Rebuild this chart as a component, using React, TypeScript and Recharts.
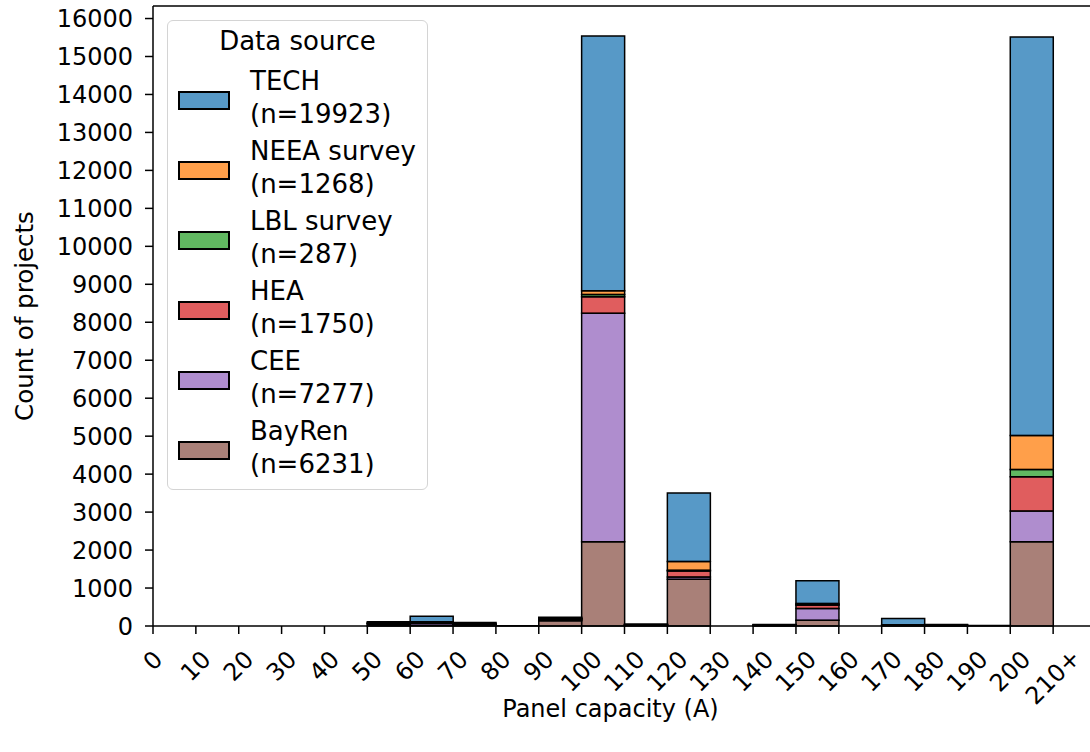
import React from 'react';
import { BarChart, Bar, XAxis, YAxis, Legend, ReferenceLine } from 'recharts';

// histogram bins (lower edge, width 10); the last bin is 200-210
const binStarts = [0, 10, 20, 30, 40, 50, 60, 70, 80, 90, 100, 110, 120, 130, 140, 150, 160, 170, 180, 190, 200];
const xTicks = [0, 10, 20, 30, 40, 50, 60, 70, 80, 90, 100, 110, 120, 130, 140, 150, 160, 170, 180, 190, 200, 210];
const yTicks = [0, 1000, 2000, 3000, 4000, 5000, 6000, 7000, 8000, 9000, 10000, 11000, 12000, 13000, 14000, 15000, 16000];
const yMax = 16330;
const xMax = 220;

// counts per bin, bottom of stack first
const bayRen = [0, 0, 0, 0, 0, 15, 20, 10, 0, 140, 2220, 10, 1230, 0, 5, 150, 0, 5, 5, 0, 2220];
const cee = [0, 0, 0, 0, 0, 35, 50, 20, 0, 20, 6016, 10, 60, 0, 10, 310, 0, 10, 5, 0, 806];
const hea = [0, 0, 0, 0, 0, 15, 20, 10, 0, 25, 437, 5, 160, 0, 5, 90, 0, 5, 5, 0, 905];
const lbl = [0, 0, 0, 0, 0, 5, 5, 5, 0, 5, 60, 0, 20, 0, 0, 10, 0, 0, 0, 0, 190];
const neea = [0, 0, 0, 0, 0, 10, 15, 10, 0, 15, 100, 5, 230, 0, 5, 30, 0, 10, 5, 0, 895];
const tech = [0, 0, 0, 0, 0, 35, 150, 40, 5, 25, 6705, 20, 1800, 0, 15, 600, 0, 170, 20, 10, 10500];

const series = [
  { key: 'bayren', name: 'BayRen', n: 6231, values: bayRen, color: '#8c564b', swatch: '#a98078' },
  { key: 'cee', name: 'CEE', n: 7277, values: cee, color: '#9467bd', swatch: '#af8dce' },
  { key: 'hea', name: 'HEA', n: 1750, values: hea, color: '#d62728', swatch: '#e05d5e' },
  { key: 'lbl', name: 'LBL survey', n: 287, values: lbl, color: '#2ca02c', swatch: '#61b861' },
  { key: 'neea', name: 'NEEA survey', n: 1268, values: neea, color: '#ff7f0e', swatch: '#ff9f4a' },
  { key: 'tech', name: 'TECH', n: 19923, values: tech, color: '#1f77b4', swatch: '#5799c7' },
];

const data = binStarts.map((b, i) => {
  const row: any = { mid: b + 5 };
  series.forEach(s => { row[s.key] = s.values[i]; });
  return row;
});

const FONT = '"DejaVu Sans", sans-serif';
const FS = 24;
const LEG_FS = 26;

const XTick = (props: any) => {
  const { x, y, payload } = props;
  const label = payload.value === 210 ? '210+' : String(payload.value);
  const w = label.length * 0.64 * FS;
  const h = 0.73 * FS;
  const cy = y - 3 + (w / 2 + h / 2) * Math.SQRT1_2;
  return (
    <text x={x} y={cy} textAnchor="middle" dominantBaseline="central" fontSize={FS} fontFamily={FONT} fill="#000"
      transform={`rotate(-45 ${x} ${cy})`}>
      {label}
    </text>
  );
};

const XLabel = (props: any) => {
  const { viewBox } = props;
  const cx = viewBox.x + viewBox.width / 2 - 14;
  return (
    <text x={cx} y={709} textAnchor="middle" dominantBaseline="central" fontSize={FS} fontFamily={FONT} fill="#000">
      Panel capacity (A)
    </text>
  );
};

const YLabel = (props: any) => {
  const { viewBox } = props;
  const cy = viewBox.y + viewBox.height / 2;
  return (
    <text x={24} y={cy} textAnchor="middle" dominantBaseline="central" fontSize={FS + 0.5} fontFamily={FONT} fill="#000"
      transform={`rotate(-90 24 ${cy})`}>
      Count of projects
    </text>
  );
};

const LegendBox = () => (
  <div style={{
    position: 'relative', width: 261, height: 470, boxSizing: 'border-box',
    border: '1px solid #d4d4d4', borderRadius: 6, background: 'rgba(255,255,255,0.8)',
    fontFamily: FONT, fontSize: LEG_FS, color: '#000',
  }}>
    <div style={{ position: 'absolute', top: 5, left: 0, right: 0, textAlign: 'center', lineHeight: '30px' }}>Data source</div>
    {[...series].reverse().map((s, i) => (
      <div key={s.key}>
        <div style={{
          position: 'absolute', left: 10, top: 70 + 70 * i, width: 52, height: 19, boxSizing: 'border-box',
          background: s.swatch, border: '2px solid #000',
        }} />
        <div style={{ position: 'absolute', left: 82, top: 44 + 70 * i, lineHeight: '33px', whiteSpace: 'nowrap' }}>
          {s.name}<br />(n={s.n})
        </div>
      </div>
    ))}
  </div>
);

export default function App() {
  return (
    <div style={{ position: 'absolute', left: 0, top: 0, width: 1090, height: 752, overflow: 'hidden', background: '#fff' }}>
      <BarChart width={1110} height={752} data={data} margin={{ top: 6, right: 14, bottom: 0, left: 0 }}
        barCategoryGap={0} barGap={0}>
        <XAxis dataKey="mid" type="number" domain={[0, xMax]} ticks={xTicks} interval={0} height={126}
          tick={<XTick />} tickSize={8} tickMargin={18}
          axisLine={{ stroke: '#000', strokeWidth: 1.5 }} tickLine={{ stroke: '#000', strokeWidth: 1.5 }}
          label={<XLabel />} />
        <YAxis type="number" domain={[0, yMax]} ticks={yTicks} interval={0} width={153}
          tickSize={8} tickMargin={12}
          tick={{ fontSize: FS, fontFamily: FONT, fill: '#000' }}
          axisLine={{ stroke: '#000', strokeWidth: 1.5 }} tickLine={{ stroke: '#000', strokeWidth: 1.5 }}
          label={<YLabel />} />
        <ReferenceLine y={yMax} stroke="#000" strokeWidth={1.5} />
        {series.map(s => (
          <Bar key={s.key} dataKey={s.key} name={s.name} stackId="a" fill={s.color} fillOpacity={0.75}
            stroke="#000" strokeWidth={1.5} isAnimationActive={false} />
        ))}
        <Legend layout="vertical" align="center" verticalAlign="middle" content={<LegendBox />}
          wrapperStyle={{ position: 'absolute', left: 167, top: 20, width: 261, height: 470 }} />
      </BarChart>
    </div>
  );
}
